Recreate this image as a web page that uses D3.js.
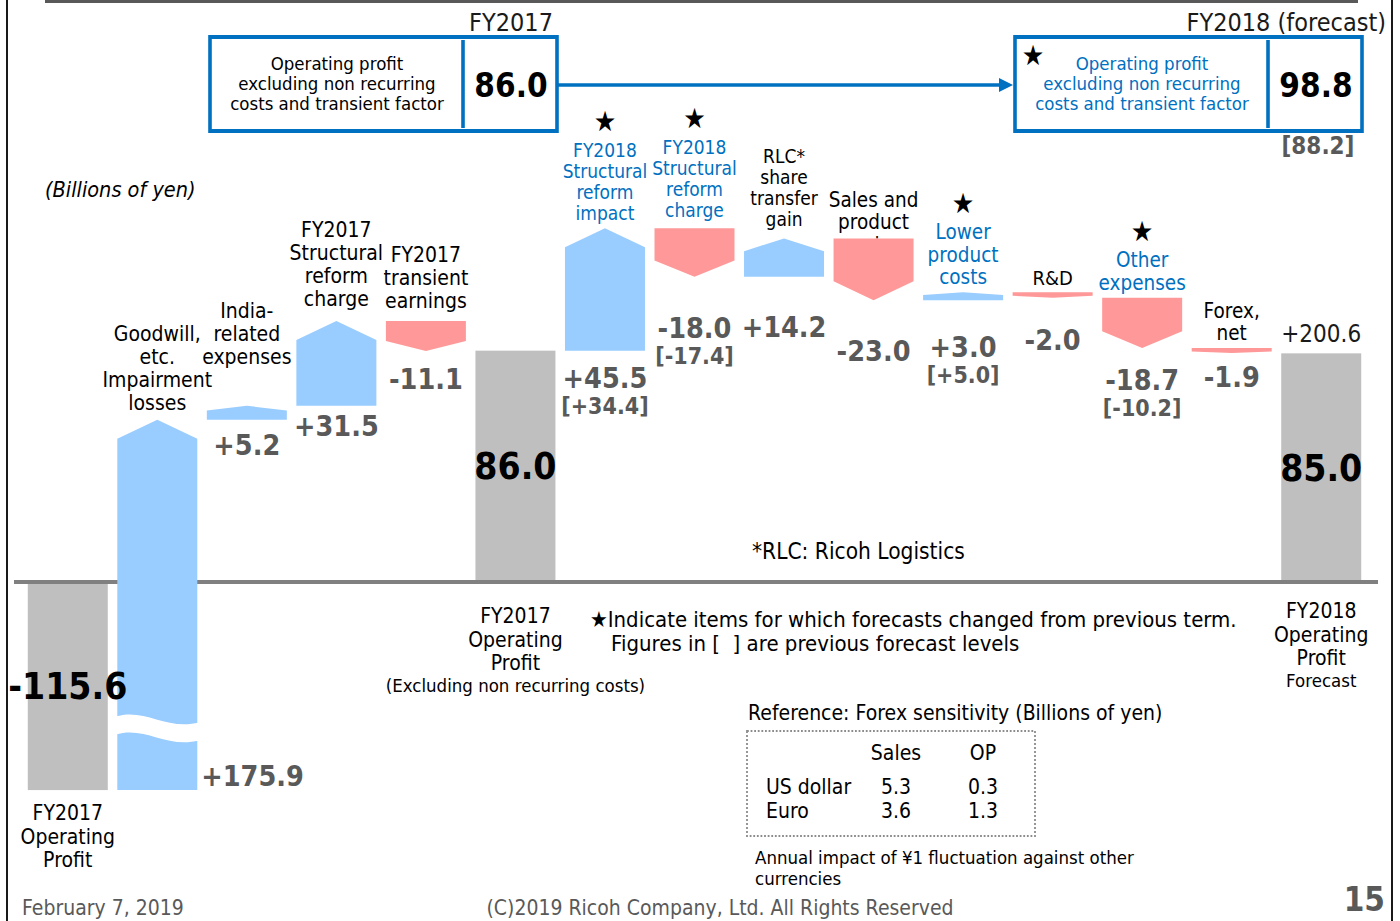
<!DOCTYPE html>
<html>
<head>
<meta charset="utf-8">
<script src="https://cdn.jsdelivr.net/npm/d3@7"></script>
<style>
  html, body { margin: 0; padding: 0; background: #fff; }
  svg text { font-family: "DejaVu Sans", Verdana, sans-serif; }
</style>
</head>
<body>
<svg id="chart" width="1400" height="921"></svg>
<script>
// ---------- data (billions of yen) ----------
const categories = [
  "FY2017 Operating Profit",
  "Goodwill, etc. Impairment losses",
  "India-related expenses",
  "FY2017 Structural reform charge",
  "FY2017 transient earnings",
  "FY2017 Operating Profit (Excluding non recurring costs)",
  "FY2018 Structural reform impact",
  "FY2018 Structural reform charge",
  "RLC* share transfer gain",
  "Sales and product mix",
  "Lower product costs",
  "R&D",
  "Other expenses",
  "Forex, net",
  "FY2018 Operating Profit Forecast"
];
const labelLines = [
  ["FY2017", "Operating", "Profit"],
  ["Goodwill,", "etc.", "Impairment", "losses"],
  ["India-", "related", "expenses"],
  ["FY2017", "Structural", "reform", "charge"],
  ["FY2017", "transient", "earnings"],
  ["FY2017", "Operating", "Profit"],
  ["FY2018", "Structural", "reform", "impact"],
  ["FY2018", "Structural", "reform", "charge"],
  ["RLC*", "share", "transfer", "gain"],
  ["Sales and", "product", "mix"],
  ["Lower", "product", "costs"],
  ["R&D"],
  ["Other", "expenses"],
  ["Forex,", "net"],
  ["FY2018", "Operating", "Profit"]
];
const subLabels = [null, null, null, null, null, "(Excluding non recurring costs)",
  null, null, null, null, null, null, null, null, "Forecast"];
const kinds = ["total", "delta", "delta", "delta", "delta", "total",
  "delta", "delta", "delta", "delta", "delta", "delta", "delta", "delta", "total"];
const values = [-115.6, 175.9, 5.2, 31.5, -11.1, 86.0,
  45.5, -18.0, 14.2, -23.0, 3.0, -2.0, -18.7, -1.9, 85.0];
// previous forecast levels (only where the forecast changed)
const previousForecast = [null, null, null, null, null, null,
  34.4, -17.4, null, null, 5.0, null, -10.2, null, null];

const boxTitles = ["FY2017", "FY2018 (forecast)"];
const boxValues = [86.0, 98.8];
const boxPrevious = [null, 88.2];
const boxLines = ["Operating profit", "excluding non recurring", "costs and transient factor"];

const currencies = ["US dollar", "Euro"];
const salesSensitivity = [5.3, 3.6];
const opSensitivity = [0.3, 1.3];

// ---------- layout ----------
const SX = 0.9;                 // the slide is drawn horizontally condensed
const X = v => v / SX;          // screen x -> drawing x
const BLUE = "#0070C0", UP_FILL = "#99CCFF", DOWN_FILL = "#FF9999",
      TOTAL_FILL = "#BFBFBF", AXIS_GREY = "#808080", VALUE_GREY = "#595959";

const labelSize   = [21, 21, 21, 21, 21, 21, 19, 19, 19, 20.5, 20.5, 20, 20.5, 20.5, 21];
const topLabelGap = [0, 17, 49, 22, 20, 0, 15, 18, 19, -6, 15, 14, 15, 15, 0];
const valueGap    = [0, 0, 25, 20, 28, 0, 27, 51, 50, 51, 47, 42, 32, 24, 0];
const bottomGap   = [23, 0, 0, 0, 0, 34, 0, 0, 0, 0, 0, 0, 0, 0, 29];
const breakValue = -82;         // where the long bar is cut by the axis break

const svg = d3.select("#chart");
const root = svg.append("g").attr("transform", `scale(${SX},1)`);

const x = d3.scaleBand()
  .domain(d3.range(categories.length))
  .range([X(23), X(1366)])
  .paddingInner(0.1065)
  .paddingOuter(0.0533);

// broken axis: the negative side is compressed
const y = d3.scaleLinear()
  .domain([-120, 0, 140])
  .range([798, 582, 205.4]);

const sign = v => (v > 0 ? "+" : "-") + Math.abs(v).toFixed(1);
const plain = v => (v < 0 ? "-" : "") + Math.abs(v).toFixed(1);

function text(g, tx, ty, str, o = {}) {
  const t = g.append("text")
    .attr("x", tx).attr("y", ty).attr("dy", "0.35em")
    .attr("text-anchor", o.anchor || "middle")
    .attr("font-size", o.size || 21)
    .attr("fill", o.fill || "#000")
    .text(str);
  if (o.weight) t.attr("font-weight", o.weight);
  if (o.italic) t.attr("font-style", "italic");
  if (o.pre) t.style("white-space", "pre");
  return t;
}

// ---------- running totals ----------
let run = 0;
const steps = values.map((v, i) => {
  if (kinds[i] === "total") { run = v; return { i, start: 0, end: v, total: true }; }
  const s = run; run = s + v;
  return { i, start: s, end: run, total: false };
});

// ---------- slide frame ----------
root.append("rect").attr("x", X(45)).attr("y", 0).attr("width", X(1313)).attr("height", 3).attr("fill", "#595959");
root.append("line").attr("x1", X(7)).attr("x2", X(7)).attr("y1", 0).attr("y2", 921).attr("stroke", "#000").attr("stroke-width", 2);
root.append("line").attr("x1", X(1392)).attr("x2", X(1392)).attr("y1", 0).attr("y2", 921).attr("stroke", "#000").attr("stroke-width", 2);

text(root, X(45), 189, "(Billions of yen)", { anchor: "start", size: 21.5, italic: true });

// ---------- category labels above the change bars ----------
const labels = root.append("g");
steps.filter(d => !d.total).forEach(d => {
  const i = d.i, cx = x(i) + x.bandwidth() / 2;
  const top = Math.min(y(d.start), y(d.end));
  const lines = labelLines[i], lh = labelSize[i] * 1.1;
  const last = top - topLabelGap[i];
  const changed = previousForecast[i] !== null;
  lines.forEach((ln, k) => {
    text(labels, cx, last - (lines.length - 1 - k) * lh, ln,
      { size: labelSize[i], fill: changed ? BLUE : "#000" });
  });
  if (changed) {
    const first = last - (lines.length - 1) * lh;
    text(labels, cx, first - 29, "\u2605", { size: 28 });
  }
});

// ---------- totals (grey) ----------
const bars = root.append("g");
steps.filter(d => d.total).forEach(d => {
  const y0 = y(Math.max(d.start, d.end)), y1 = y(Math.min(d.start, d.end));
  bars.append("rect")
    .attr("x", x(d.i)).attr("width", x.bandwidth())
    .attr("y", d.end < 0 ? y0 + 2 : y0).attr("height", y1 - y0 - (d.end < 0 ? 2 : 0))
    .attr("fill", TOTAL_FILL);
});

// zero line
root.append("line")
  .attr("x1", X(14)).attr("x2", X(1378))
  .attr("y1", y(0)).attr("y2", y(0))
  .attr("stroke", AXIS_GREY).attr("stroke-width", 4);

// ---------- change bars (arrow shaped) ----------
const arrowLine = d3.line().curve(d3.curveLinearClosed);
function arrowPoints(x0, x1, ys, ye) {
  const dir = ye > ys ? 1 : -1;
  const tip = Math.min(Math.abs(ye - ys) / 3, 19);
  const ysh = ye - dir * tip, xc = (x0 + x1) / 2;
  return [[x0, ys], [x1, ys], [x1, ysh], [xc, ye], [x0, ysh]];
}
const deltas = root.append("g");
steps.filter(d => !d.total).forEach(d => {
  const x0 = x(d.i), x1 = x0 + x.bandwidth();
  deltas.append("path")
    .attr("d", arrowLine(arrowPoints(x0, x1, y(d.start), y(d.end))))
    .attr("fill", d.end >= d.start ? UP_FILL : DOWN_FILL);
  // wavy cut where a bar runs through the axis break
  if (Math.min(d.start, d.end) < breakValue && Math.max(d.start, d.end) > breakValue) {
    const yb = y(breakValue), w = x1 - x0, a = x0 - 2, b = x1 + 2;
    deltas.append("path")
      .attr("d", `M${a},${yb - 13} C${x0 + 0.35 * w},${yb - 22} ${x0 + 0.6 * w},${yb + 1} ${b},${yb - 7}`
        + ` L${b},${yb + 11} C${x0 + 0.6 * w},${yb + 19} ${x0 + 0.35 * w},${yb - 4} ${a},${yb + 5} Z`)
      .attr("fill", "#fff");
  }
});

// ---------- value labels ----------
const vals = root.append("g");
steps.forEach(d => {
  const i = d.i, cx = x(i) + x.bandwidth() / 2;
  if (d.total) {
    text(vals, cx, (y(0) + y(d.end)) / 2, plain(values[i]), { size: 37, weight: "bold" });
    const lh = 23.5, first = Math.max(y(0), y(d.end)) + bottomGap[i];
    labelLines[i].forEach((ln, k) => text(vals, cx, first + k * lh, ln, { size: labelSize[i] }));
    if (subLabels[i]) text(vals, cx, first + labelLines[i].length * lh - 1, subLabels[i], { size: 18.5 });
    return;
  }
  const low = Math.max(y(d.start), y(d.end));
  const crossesBreak = Math.min(d.start, d.end) < breakValue;
  if (crossesBreak) {
    text(vals, x(i) + x.bandwidth() + X(4), low - 14, sign(values[i]),
      { anchor: "start", size: 28.5, weight: "bold", fill: VALUE_GREY });
    return;
  }
  const vy = low + valueGap[i];
  text(vals, cx, vy, sign(values[i]), { size: 28.5, weight: "bold", fill: VALUE_GREY });
  if (previousForecast[i] !== null) {
    text(vals, cx, vy + 28, "[" + sign(previousForecast[i]) + "]", { size: 23, weight: "bold", fill: VALUE_GREY });
  }
});

// overall change from FY2017 to the FY2018 forecast, above the last bar
{
  const last = values.length - 1, cx = x(last) + x.bandwidth() / 2;
  text(root, cx, y(values[last]) - 20, sign(values[last] - values[0]), { size: 24, fill: "#1a1a1a" });
}

// ---------- summary boxes ----------
const boxLeft = [X(210), X(1015)], boxW = X(347), boxTop = 37, boxH = 94;
const boxTitleRight = [X(553), X(1386)];
boxValues.forEach((v, k) => {
  const g = root.append("g");
  const bx = boxLeft[k], changed = boxPrevious[k] !== null;
  g.append("rect").attr("x", bx).attr("y", boxTop).attr("width", boxW).attr("height", boxH)
    .attr("fill", "#fff").attr("stroke", BLUE).attr("stroke-width", 4);
  g.append("line").attr("x1", bx + X(253)).attr("x2", bx + X(253))
    .attr("y1", boxTop + 3).attr("y2", boxTop + boxH - 3)
    .attr("stroke", BLUE).attr("stroke-width", 4);
  boxLines.forEach((ln, j) => text(g, bx + X(127), 64 + j * 20, ln, { size: 18.5, fill: changed ? BLUE : "#000" }));
  text(g, bx + X(301), 85, v.toFixed(1), { size: 33, weight: "bold" });
  text(g, boxTitleRight[k], 22, boxTitles[k], { anchor: "end", size: 25, fill: "#1a1a1a" });
  if (changed) {
    text(g, bx + X(18), 55, "\u2605", { size: 28 });
    text(g, bx + X(303), 146, "[" + boxPrevious[k].toFixed(1) + "]", { size: 24, weight: "bold", fill: VALUE_GREY });
  }
});
// arrow linking the two boxes
root.append("line").attr("x1", boxLeft[0] + boxW).attr("x2", boxLeft[1] - X(14))
  .attr("y1", 85).attr("y2", 85).attr("stroke", BLUE).attr("stroke-width", 3.5);
root.append("path")
  .attr("d", `M${boxLeft[1] - X(2)},85 L${boxLeft[1] - X(16)},78 L${boxLeft[1] - X(16)},92 Z`)
  .attr("fill", BLUE);

// ---------- notes ----------
text(root, X(752), 551, "*RLC: Ricoh Logistics", { anchor: "start", size: 22.5 });
text(root, X(590), 619, "\u2605Indicate items for which forecasts changed from previous term.", { anchor: "start", size: 22 });
text(root, X(611), 643, "Figures in [  ] are previous forecast levels", { anchor: "start", size: 22, pre: true });

// forex sensitivity table
text(root, X(748), 713, "Reference: Forex sensitivity (Billions of yen)", { anchor: "start", size: 21 });
root.append("rect").attr("x", X(747)).attr("y", 731).attr("width", X(288)).attr("height", 105)
  .attr("fill", "none").attr("stroke", "#8c8c8c").attr("stroke-width", 2).attr("stroke-dasharray", "2 2");
text(root, X(896), 753, "Sales", { size: 21 });
text(root, X(983), 753, "OP", { size: 21 });
currencies.forEach((c, k) => {
  const ry = 787 + k * 24;
  text(root, X(766), ry, c, { anchor: "start", size: 21 });
  text(root, X(896), ry, salesSensitivity[k].toFixed(1), { size: 21 });
  text(root, X(983), ry, opSensitivity[k].toFixed(1), { size: 21 });
});
text(root, X(755), 858, "Annual impact of \u00a51 fluctuation against other", { anchor: "start", size: 18.5 });
text(root, X(755), 879, "currencies", { anchor: "start", size: 18.5 });

// ---------- footer ----------
text(root, X(22), 908, "February 7, 2019", { anchor: "start", size: 21, fill: VALUE_GREY });
text(root, X(720), 908, "(C)2019 Ricoh Company, Ltd. All Rights Reserved", { size: 21, fill: VALUE_GREY });
text(root, X(1385), 899, "15", { anchor: "end", size: 33, weight: "bold", fill: VALUE_GREY });
</script>
</body>
</html>
